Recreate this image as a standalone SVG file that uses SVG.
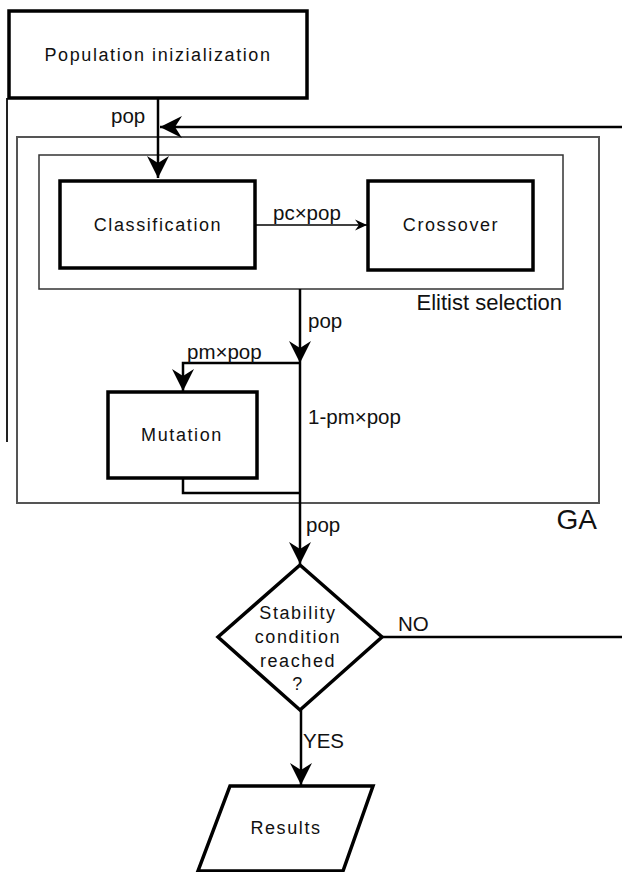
<svg xmlns="http://www.w3.org/2000/svg" width="622" height="872" viewBox="0 0 622 872">
<style>
.node{fill:#fff;stroke:#000;stroke-width:3.5}
.nt{font-family:"Liberation Sans",Arial,sans-serif;font-size:18px;letter-spacing:1.6px;text-anchor:middle;fill:#111}
.el{font-family:"Liberation Sans",Arial,sans-serif;font-size:20.5px;fill:#111}
.c{fill:none;stroke:#000;stroke-width:2.5}
.thin{fill:none;stroke:#000;stroke-width:1.5}
</style>
<defs>
<marker id="big" markerUnits="userSpaceOnUse" markerWidth="24" markerHeight="24" viewBox="-23 -12 24 24" refX="0" refY="0" orient="auto">
<path d="M0,0 L-22,-11 L-15,0 L-22,11 Z" fill="#000"/>
</marker>
<marker id="small" markerUnits="userSpaceOnUse" markerWidth="14" markerHeight="12" viewBox="-13 -6 14 12" refX="0" refY="0" orient="auto">
<path d="M0,0 L-12,-5.5 L-8,0 L-12,5.5 Z" fill="#000"/>
</marker>
</defs>

<g id="ga">
<rect x="17" y="137" width="582" height="366" fill="none" stroke="#555" stroke-width="2"/>
<text x="597" y="529" font-family="Liberation Sans,Arial,sans-serif" font-size="28" text-anchor="end" fill="#111">GA</text>
</g>
<g id="elitist">
<rect x="39" y="155" width="524" height="134" fill="none" stroke="#333" stroke-width="1.5"/>
<text x="562" y="310" font-family="Liberation Sans,Arial,sans-serif" font-size="22" text-anchor="end" fill="#111">Elitist selection</text>
</g>
<line x1="7" y1="98" x2="7" y2="442" stroke="#222" stroke-width="2"/>

<g id="connectors">
<line class="c" x1="158" y1="99" x2="158" y2="178" marker-end="url(#big)"/>
<path class="c" d="M382,637 H634 V127 H160" marker-end="url(#big)"/>
<line class="thin" x1="256" y1="225" x2="367" y2="225" marker-end="url(#small)"/>
<line class="c" x1="300" y1="289" x2="300" y2="363" marker-end="url(#big)"/>
<line class="c" x1="300" y1="363" x2="300" y2="564" marker-end="url(#big)"/>
<path class="c" d="M300,363 H183 V391" marker-end="url(#big)"/>
<path class="c" d="M183,478 V493 H300"/>
<line class="c" x1="301" y1="710" x2="301" y2="785" marker-end="url(#big)"/>
<text class="el" x="111" y="123">pop</text>
<text class="el" x="273" y="220">pc×pop</text>
<text class="el" x="308" y="328">pop</text>
<text class="el" x="187" y="359">pm×pop</text>
<text class="el" x="308" y="424">1-pm×pop</text>
<text class="el" x="306" y="532">pop</text>
<text class="el" x="398" y="631" font-size="21">NO</text>
<text class="el" x="303" y="748">YES</text>
</g>

<g id="population">
<rect class="node" x="9" y="11" width="298" height="87"/>
<text class="nt" x="158" y="61">Population inizialization</text>
</g>
<g id="classification">
<rect class="node" x="60" y="181" width="195" height="87" stroke-width="4"/>
<text class="nt" x="158" y="231">Classification</text>
</g>
<g id="crossover">
<rect class="node" x="368" y="181" width="165" height="89" stroke-width="4"/>
<text class="nt" x="451" y="231">Crossover</text>
</g>
<g id="mutation">
<rect class="node" x="108" y="392" width="149" height="86"/>
<text class="nt" x="182" y="441">Mutation</text>
</g>
<g id="stability">
<polygon class="node" points="300,565 382,637 300,710 218,637" stroke-width="3"/>
<text class="nt" x="298" y="619">Stability</text>
<text class="nt" x="298" y="643">condition</text>
<text class="nt" x="298" y="667">reached</text>
<text class="nt" x="298" y="690">?</text>
</g>
<g id="results">
<polygon class="node" points="230,786 373,786 343,871 198,871" stroke-width="3"/>
<text class="nt" x="286" y="834">Results</text>
</g>
</svg>
